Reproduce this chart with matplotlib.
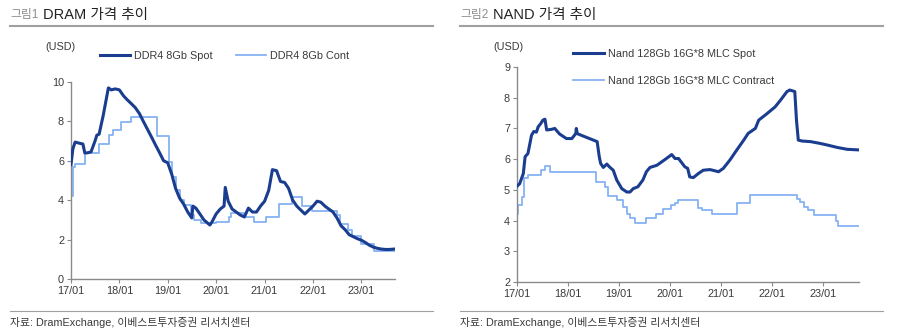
import matplotlib
matplotlib.use("Agg")
import matplotlib.pyplot as plt
import matplotlib.dates as mdates
import pandas as pd

plt.rcParams['font.family'] = ['Liberation Sans', 'Noto Sans CJK KR']

# ---- DRAM data (USD) ----
dram_spot_dates = [
    "2017-01-01", "2017-01-15", "2017-02-01", "2017-03-01", "2017-04-01", "2017-04-15",
    "2017-05-01", "2017-06-01", "2017-07-01", "2017-07-15", "2017-08-01", "2017-09-01",
    "2017-10-10", "2017-11-01", "2017-12-01", "2018-01-01", "2018-02-01", "2018-03-01",
    "2018-04-01", "2018-05-01", "2018-06-01", "2018-07-01", "2018-08-01", "2018-09-01",
    "2018-10-01", "2018-11-01", "2018-12-01", "2019-01-01", "2019-02-01", "2019-03-01",
    "2019-04-01", "2019-05-01", "2019-06-01", "2019-07-01", "2019-07-10", "2019-08-01",
    "2019-09-01", "2019-10-01", "2019-11-15", "2019-12-01", "2020-01-01", "2020-02-01",
    "2020-03-01", "2020-03-10", "2020-04-01", "2020-05-01", "2020-06-01", "2020-07-01",
    "2020-08-01", "2020-09-01", "2020-10-01", "2020-11-01", "2020-12-01", "2021-01-01",
    "2021-02-01", "2021-03-01", "2021-04-01", "2021-05-01", "2021-06-01", "2021-07-01",
    "2021-08-01", "2021-09-01", "2021-10-01", "2021-11-01", "2021-12-01", "2022-01-01",
    "2022-02-01", "2022-03-01", "2022-04-01", "2022-05-01", "2022-06-01", "2022-07-01",
    "2022-08-01", "2022-09-01", "2022-10-01", "2022-11-01", "2022-12-01", "2023-01-01",
    "2023-02-01", "2023-03-01", "2023-04-01", "2023-05-01", "2023-06-01", "2023-07-01",
    "2023-08-01", "2023-09-05",
]
dram_spot = [
    5.8, 6.6, 6.95, 6.9, 6.85, 6.4,
    6.4, 6.45, 7.0, 7.3, 7.35, 8.3,
    9.7, 9.6, 9.65, 9.6, 9.3, 9.1,
    8.9, 8.7, 8.4, 8.0, 7.6, 7.2,
    6.8, 6.4, 6.0, 5.9, 5.3, 4.6,
    4.1, 3.8, 3.4, 3.1, 3.7, 3.6,
    3.3, 3.0, 2.74, 2.9, 3.3, 3.55,
    3.7, 4.65, 3.95, 3.55, 3.4, 3.25,
    3.15, 3.6, 3.4, 3.4, 3.7, 3.95,
    4.5, 5.55, 5.5, 4.95, 4.9, 4.6,
    4.0, 3.7, 3.5, 3.3, 3.5, 3.7,
    3.95, 3.9, 3.7, 3.55, 3.4, 3.1,
    2.7, 2.5, 2.25, 2.15, 2.05, 1.97,
    1.85, 1.72, 1.62, 1.56, 1.52, 1.5,
    1.5, 1.52,
]
dram_cont_dates = [
    "2017-01-01", "2017-01-15", "2017-02-01", "2017-04-15", "2017-08-01", "2017-10-15",
    "2017-11-15", "2018-01-15", "2018-04-01", "2018-10-15", "2019-01-10", "2019-02-01",
    "2019-03-01", "2019-04-01", "2019-05-01", "2019-06-25", "2019-07-15", "2019-09-10",
    "2020-01-01", "2020-04-10", "2020-04-20", "2020-08-01", "2020-10-10", "2021-01-10",
    "2021-04-20", "2021-07-25", "2021-10-10", "2021-12-25", "2022-07-01", "2022-07-25",
    "2022-09-25", "2022-10-20", "2023-01-01", "2023-04-10", "2023-09-05",
]
dram_cont = [
    4.2, 5.7, 5.85, 6.4, 6.85, 7.3,
    7.55, 7.95, 8.2, 7.25, 5.95, 5.2,
    4.5, 4.0, 3.75, 3.25, 3.0, 2.83,
    2.88, 3.13, 3.33, 3.13, 2.88, 3.13,
    3.8, 4.15, 3.7, 3.47, 3.25, 2.8,
    2.49, 2.18, 1.8, 1.42, 1.42,
]

# ---- NAND data (USD) ----
nand_spot_dates = [
    "2017-01-01", "2017-01-20", "2017-02-15", "2017-02-28", "2017-03-20", "2017-04-15",
    "2017-05-01", "2017-05-20", "2017-06-01", "2017-06-20", "2017-07-05", "2017-07-20",
    "2017-08-01", "2017-09-05", "2017-09-28", "2017-11-01", "2017-12-20", "2018-01-28",
    "2018-02-25", "2018-03-01", "2018-03-08", "2018-04-20", "2018-06-20", "2018-07-28",
    "2018-08-12", "2018-08-22", "2018-09-10", "2018-10-05", "2018-10-28", "2018-11-20",
    "2018-12-15", "2019-01-20", "2019-02-25", "2019-03-20", "2019-04-12", "2019-05-15",
    "2019-06-20", "2019-07-15", "2019-08-10", "2019-09-28", "2019-11-01", "2019-12-05",
    "2020-01-12", "2020-02-05", "2020-03-01", "2020-04-15", "2020-05-05", "2020-05-20",
    "2020-06-15", "2020-07-20", "2020-08-25", "2020-10-12", "2020-12-12", "2021-01-15",
    "2021-03-03", "2021-04-20", "2021-06-10", "2021-07-12", "2021-09-01", "2021-09-25",
    "2021-11-20", "2022-01-20", "2022-02-28", "2022-04-15", "2022-05-05", "2022-06-10",
    "2022-06-22", "2022-07-05", "2022-08-01", "2022-10-01", "2022-12-10", "2023-01-28",
    "2023-04-10", "2023-06-20", "2023-09-12",
]
nand_spot = [
    5.12, 5.2, 5.53, 6.08, 6.18, 6.78,
    6.9, 6.88, 7.05, 7.16, 7.27, 7.3,
    6.95, 6.97, 7.0, 6.82, 6.67, 6.67,
    6.83, 7.0, 6.83, 6.75, 6.64, 6.57,
    6.08, 5.86, 5.73, 5.84, 5.73, 5.64,
    5.32, 5.04, 4.93, 4.93, 5.04, 5.1,
    5.32, 5.59, 5.73, 5.8, 5.91, 6.02,
    6.15, 6.02, 6.02, 5.75, 5.7, 5.42,
    5.4, 5.53, 5.64, 5.66, 5.59, 5.7,
    5.97, 6.29, 6.62, 6.84, 7.0, 7.27,
    7.47, 7.7, 7.92, 8.2, 8.25, 8.2,
    7.27, 6.62, 6.59, 6.57, 6.51, 6.46,
    6.38, 6.32, 6.3,
]
nand_cont_dates = [
    "2017-01-01", "2017-01-10", "2017-02-05", "2017-02-20", "2017-03-20", "2017-06-25",
    "2017-07-20", "2017-08-25", "2018-07-20", "2018-09-20", "2018-10-15", "2018-12-15",
    "2019-02-01", "2019-02-25", "2019-03-20", "2019-04-25", "2019-07-15", "2019-09-25",
    "2019-11-10", "2020-01-10", "2020-02-05", "2020-02-25", "2020-07-20", "2020-08-15",
    "2020-10-25", "2021-04-25", "2021-07-25", "2022-06-25", "2022-07-20", "2022-08-15",
    "2022-09-15", "2022-10-25", "2023-04-01", "2023-04-15", "2023-09-12",
]
nand_cont = [
    4.23, 4.5, 4.77, 5.37, 5.48, 5.66,
    5.77, 5.59, 5.26, 5.1, 4.79, 4.66,
    4.45, 4.2, 4.07, 3.92, 4.07, 4.23,
    4.39, 4.5, 4.58, 4.68, 4.41, 4.36,
    4.2, 4.58, 4.82, 4.7, 4.6, 4.45,
    4.33, 4.17, 4.0, 3.82, 3.82,
]

dark = '#1a3d8f'
light = '#86b2f2'
gray = '#8a8a8a'
txt = '#3a3a3a'

fig = plt.figure(figsize=(8.97, 3.31), dpi=100)
W, H = 897, 331


def box(x0, x1, ytop, ybot):
    return [x0 / W, 1 - ybot / H, (x1 - x0) / W, (ybot - ytop) / H]


def style_axes(ax, ylim, yticks):
    for s in ['top', 'right']:
        ax.spines[s].set_visible(False)
    for s in ['left', 'bottom']:
        ax.spines[s].set_color(gray)
        ax.spines[s].set_linewidth(1.0)
    ax.set_ylim(*ylim)
    ax.set_yticks(yticks)
    ax.set_xlim(pd.Timestamp("2017-01-01"), pd.Timestamp("2023-09-12"))
    ax.xaxis.set_major_locator(mdates.YearLocator())
    ax.xaxis.set_major_formatter(mdates.DateFormatter('%y/%m'))
    ax.tick_params(axis='both', colors=gray, labelcolor=txt, labelsize=7.8,
                   length=3, width=0.8, direction='out', pad=2)
    ax.patch.set_alpha(0)


# ---- left: DRAM ----
ax1 = fig.add_axes(box(71, 395, 82, 279))
ax1.plot(pd.to_datetime(dram_spot_dates), dram_spot, color=dark, lw=2.2,
         label='DDR4 8Gb Spot', zorder=3)
ax1.plot(pd.to_datetime(dram_cont_dates), dram_cont, color=light, lw=1.3,
         drawstyle='steps-post', label='DDR4 8Gb Cont', zorder=2)
style_axes(ax1, (0, 10), range(0, 11, 2))
ax1.legend(loc='upper left', bbox_to_anchor=(100 / W, 1 - 51 / H),
           bbox_transform=fig.transFigure, ncol=2, frameon=False,
           fontsize=7.8, handlelength=2.8, handletextpad=0.35,
           columnspacing=2.1, borderpad=0, borderaxespad=0, labelcolor=txt)
fig.text(60 / W, 1 - 47 / H, '(USD)', fontsize=7.8, color=txt,
         ha='center', va='center')

# ---- right: NAND ----
ax2 = fig.add_axes(box(517, 859, 67, 282))
ax2.plot(pd.to_datetime(nand_spot_dates), nand_spot, color=dark, lw=2.2,
         label='Nand 128Gb 16G*8 MLC Spot', zorder=3)
ax2.plot(pd.to_datetime(nand_cont_dates), nand_cont, color=light, lw=1.3,
         drawstyle='steps-post', label='Nand 128Gb 16G*8 MLC Contract', zorder=2)
style_axes(ax2, (2, 9), range(2, 10))
ax2.legend(loc='upper left', bbox_to_anchor=(573 / W, 1 - 49 / H),
           bbox_transform=fig.transFigure, ncol=1, frameon=False,
           fontsize=7.8, handlelength=2.9, handletextpad=0.35,
           labelspacing=1.55, borderpad=0, borderaxespad=0, labelcolor=txt)
fig.text(508 / W, 1 - 47 / H, '(USD)', fontsize=7.8, color=txt,
         ha='center', va='center')

# ---- titles, rules and sources ----
for x0, x1, num, name in [(10, 433, '그림1', 'DRAM 가격 추이'),
                          (460, 883, '그림2', 'NAND 가격 추이')]:
    fig.text(x0 / W, 1 - 15 / H, num, fontsize=8.5, color='#8c8c8c',
             va='center', ha='left')
    fig.text((x0 + 33) / W, 1 - 15 / H, name, fontsize=10.5, color='#222222',
             va='center', ha='left', fontweight='medium')
    fig.add_artist(plt.Line2D([x0 / W, x1 / W], [1 - 26 / H, 1 - 26 / H],
                              color='#a0a0a0', lw=1.5))
    fig.add_artist(plt.Line2D([x0 / W, x1 / W], [1 - 311 / H, 1 - 311 / H],
                              color='#a0a0a0', lw=0.8))
    fig.text(x0 / W, 1 - 322 / H, '자료: DramExchange, 이베스트투자증권 리서치센터',
             fontsize=7.8, color=txt, va='center', ha='left')

fig.savefig('out.png', dpi=100)
